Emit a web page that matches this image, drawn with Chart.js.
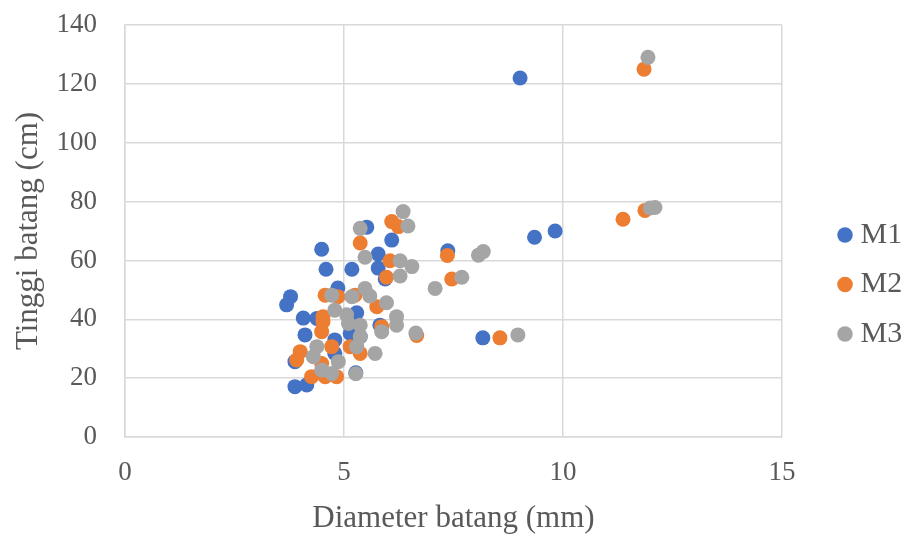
<!DOCTYPE html>
<html>
<head>
<meta charset="utf-8">
<script src="https://cdn.jsdelivr.net/npm/chart.js@4/dist/chart.umd.min.js"></script>
<style>
html,body{margin:0;padding:0;background:#fff;}
#wrap{width:907px;height:535px;}
</style>
</head>
<body>
<div id="wrap"><canvas id="c" width="907" height="535"></canvas></div>
<script>
const seriesNames = ["M1", "M2", "M3"];
const m1X = [9.02, 9.82, 9.35, 7.37, 8.17, 3.78, 3.69, 4.49, 4.59, 5.18, 5.52, 6.09, 5.78, 5.78, 5.94, 4.86, 4.07, 4.38, 5.29, 4.11, 3.88, 3.88, 4.15, 4.79, 4.79, 5.14, 5.37, 5.27, 5.82];
const m1Y = [122, 70, 67.9, 63.3, 33.7, 47.7, 44.9, 63.8, 57, 57, 71.3, 66.9, 62.2, 57.4, 53.7, 50.6, 40.4, 40.3, 42.2, 34.7, 25.6, 17.1, 17.7, 33, 28.4, 35.2, 34.1, 21.8, 38];
const m2X = [11.85, 11.37, 11.87, 7.36, 7.46, 8.56, 6.09, 6.24, 5.37, 6.05, 5.97, 4.57, 4.86, 5.25, 5.75, 4.52, 4.49, 4.72, 4.0, 3.92, 4.26, 4.57, 4.83, 4.49, 5.37, 5.14, 5.86, 6.66, 4.52];
const m2Y = [125, 74, 77, 61.7, 53.7, 33.7, 73.2, 71.5, 65.9, 59.9, 54.3, 48.2, 47.7, 48.2, 44.3, 40.9, 35.8, 30.7, 29, 26.2, 20.5, 20.5, 20.5, 25, 28.4, 30.7, 37.5, 34.5, 39.2];
const m3X = [11.94, 11.99, 12.1, 8.07, 8.18, 7.69, 7.08, 8.97, 6.35, 6.46, 5.37, 5.48, 6.28, 6.55, 6.28, 4.72, 5.18, 5.48, 5.59, 5.97, 4.79, 5.06, 6.2, 6.64, 4.38, 4.3, 4.87, 4.49, 4.72, 5.27, 5.29, 5.37, 5.71, 5.1, 5.37, 5.86, 6.2];
const m3Y = [129, 77.8, 78, 61.8, 63, 54.3, 50.5, 34.7, 76.6, 71.7, 70.9, 61.1, 59.9, 57.9, 54.7, 48.2, 47.7, 50.5, 47.9, 45.6, 43.1, 41.5, 40.9, 35.3, 30.7, 27.3, 25.6, 22.8, 21.6, 21.5, 30.7, 34.1, 28.4, 38.6, 38, 35.8, 38];
const xTicks = [0, 5, 10, 15];
const yTicks = [0, 20, 40, 60, 80, 100, 120, 140];

const colors = ["#4472C4", "#ED7D31", "#A5A5A5"];
const xs = [m1X, m2X, m3X];
const ys = [m1Y, m2Y, m3Y];
const font = "'Liberation Serif', 'Times New Roman', serif";
const txt = "#595959";

const datasets = seriesNames.map((n, i) => ({
  label: n,
  data: xs[i].map((x, k) => ({x: x, y: ys[i][k]})),
  backgroundColor: colors[i],
  borderColor: colors[i],
  pointRadius: 7.5,
  pointHoverRadius: 7.5,
  borderWidth: 0,
  order: 3 - i
}));

const legendTweak = {
  id: 'legendTweak',
  afterInit(chart) {
    const lg = chart.legend;
    const orig = lg.fit.bind(lg);
    lg.fit = function() { orig(); this.width = 125; };
  },
  afterLayout(chart) {
    const lg = chart.legend;
    lg.top += 17; lg.bottom += 17;
    lg.left += 43; lg.right += 43;
  }
};

new Chart(document.getElementById('c'), {
  type: 'scatter',
  data: {datasets},
  plugins: [legendTweak],
  options: {
    responsive: false,
    animation: false,
    layout: {padding: 0},
    plugins: {
      tooltip: {enabled: false},
      legend: {
        position: 'right',
        align: 'center',
        labels: {
          usePointStyle: true,
          pointStyle: 'circle',
          boxWidth: 1,
          boxHeight: 11,
          padding: 19.5,
          color: txt,
          font: {family: font, size: 30},
          sort: (a, b) => a.datasetIndex - b.datasetIndex
        }
      }
    },
    scales: {
      x: {
        type: 'linear',
        min: 0, max: 15,
        afterBuildTicks: (s) => { s.ticks = xTicks.map(v => ({value: v})); },
        afterFit: (s) => { s.height = 98; },
        grid: {color: '#d9d9d9', lineWidth: 1.5, drawTicks: false},
        border: {color: '#d9d9d9', width: 1.5},
        ticks: {color: txt, font: {family: font, size: 27}, padding: 20, maxRotation: 0},
        title: {display: true, text: 'Diameter batang (mm)', color: txt, font: {family: font, size: 31, lineHeight: 1}, padding: {top: 0, bottom: 1}}
      },
      y: {
        type: 'linear',
        min: 0, max: 140,
        afterBuildTicks: (s) => { s.ticks = yTicks.map(v => ({value: v})); },
        afterFit: (s) => { s.width = 125; s.paddingTop = 25; },
        grid: {color: '#d9d9d9', lineWidth: 1.5, drawTicks: false},
        border: {color: '#d9d9d9', width: 1.5},
        ticks: {color: txt, font: {family: font, size: 27}, padding: 28},
        title: {display: true, text: 'Tinggi batang (cm)', color: txt, font: {family: font, size: 31, lineHeight: 1}, padding: {top: 13, bottom: 0}}
      }
    }
  }
});
</script>
</body>
</html>
